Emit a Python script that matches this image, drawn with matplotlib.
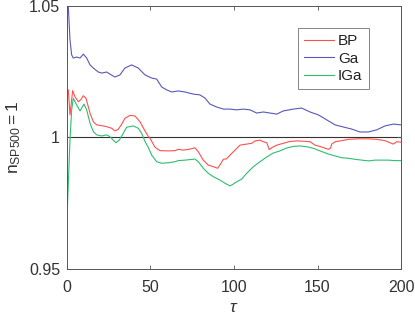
import matplotlib
matplotlib.use('Agg')
import matplotlib.pyplot as plt

plt.rcParams['font.family'] = ['Liberation Sans', 'DejaVu Sans']
plt.rcParams['mathtext.fontset'] = 'custom'
plt.rcParams['mathtext.rm'] = 'Liberation Sans'
plt.rcParams['mathtext.it'] = 'Liberation Sans:italic'

# Ga (blue)
ga_tau = [0, 0.8, 1.8, 2.8, 3.8, 5.8, 7.8, 9.8, 11.8, 13.8, 15.8, 18.7, 20.8, 23.8,
          25.7, 28.7, 31.7, 34.7, 38.7, 42.7, 46.7, 50.7, 53.7, 56.7, 59.7, 62.7,
          66.6, 70.7, 75.6, 79.6, 82.6, 85.6, 89.6, 93.6, 97.6, 101.6, 105.6, 109.6,
          113.6, 117.5, 121.6, 125.6, 129.5, 135.5, 140.5, 145.5, 150.5, 155.5,
          160.5, 165.4, 170.5, 175.4, 180.4, 185.4, 190.4, 195.4, 200]
ga_val = [1.0505, 1.0497, 1.0371, 1.0314, 1.0302, 1.0306, 1.0302, 1.0317, 1.0302,
          1.0276, 1.0264, 1.0249, 1.0245, 1.0249, 1.0241, 1.0230, 1.0238, 1.0264,
          1.0276, 1.0264, 1.0238, 1.0226, 1.0222, 1.0192, 1.0181, 1.0173, 1.0177,
          1.0173, 1.0165, 1.0162, 1.0150, 1.0127, 1.0116, 1.0108, 1.0108, 1.0105,
          1.0108, 1.0105, 1.0093, 1.0097, 1.0093, 1.0089, 1.0101, 1.0108, 1.0112,
          1.0097, 1.0086, 1.0067, 1.0048, 1.0040, 1.0032, 1.0021, 1.0021, 1.0029,
          1.0044, 1.0051, 1.0048]

# BP (red)
bp_tau = [0.8, 1.8, 3.4, 4.8, 6.8, 8.2, 9.8, 11.4, 13.8, 15.8, 17.8, 20.8, 23.8,
          26.8, 28.7, 30.7, 32.8, 34.7, 37.7, 40.7, 43.7, 46.7, 48.7, 49.7, 52.7,
          55.7, 60.7, 64.7, 66.6, 69.6, 73.7, 76.6, 78.6, 81.6, 84.6, 87.6, 90.2,
          92.2, 93.6, 95.6, 97.6, 100.6, 103.6, 107.6, 110.6, 112.6, 115.6, 117.5,
          119.6, 121.1, 122.8, 125.6, 129.5, 133.5, 137.5, 141.5, 145.5, 148.5,
          152.5, 156.5, 157.8, 158.5, 160.5, 164.5, 168.4, 174.4, 180.4, 185.4,
          190.4, 193.4, 195.4, 197.4, 200]
bp_val = [1.0181, 1.0086, 1.0178, 1.0155, 1.0136, 1.0143, 1.0159, 1.0149, 1.0092,
          1.0060, 1.0048, 1.0045, 1.0041, 1.0035, 1.0025, 1.0031, 1.0051, 1.0073,
          1.0084, 1.0082, 1.0060, 1.0025, 1.0004, 0.9997, 0.9963, 0.9950, 0.9949,
          0.9950, 0.9955, 0.9952, 0.9956, 0.9961, 0.9946, 0.9914, 0.9895, 0.9889,
          0.9883, 0.9902, 0.9917, 0.9919, 0.9933, 0.9952, 0.9971, 0.9975, 0.9978,
          0.9987, 0.9990, 0.9984, 0.9980, 0.9954, 0.9962, 0.9971, 0.9978, 0.9985,
          0.9987, 0.9986, 0.9984, 0.9971, 0.9964, 0.9955, 0.9960, 0.9975, 0.9984,
          0.9988, 0.9993, 0.9995, 0.9995, 0.9993, 0.9988, 0.9980, 0.9975, 0.9984,
          0.9982]

# IGa (green)
iga_tau = [0.3, 1.8, 2.8, 3.8, 5.8, 7.8, 10.2, 11.8, 13.8, 15.8, 17.8, 20.8, 23.8,
           25.7, 27.7, 29.3, 31.3, 33.7, 35.7, 39.7, 42.7, 44.7, 46.7, 48.7, 50.7,
           53.7, 56.7, 60.7, 64.7, 66.6, 70.7, 76.6, 78.6, 81.6, 84.6, 87.6, 91.6,
           94.6, 97.6, 99.6, 100.6, 104.6, 107.6, 111.6, 115.6, 119.6, 123.5, 127.5,
           131.5, 135.5, 139.5, 143.5, 147.5, 151.5, 156.5, 160.5, 164.5, 168.4,
           172.5, 176.5, 180.4, 184.4, 188.4, 192.4, 196.4, 200]
iga_val = [0.9743, 0.9990, 1.0105, 1.0149, 1.0124, 1.0101, 1.0127, 1.0105, 1.0054,
           1.0022, 1.0010, 1.0006, 1.0010, 1.0003, 0.9990, 0.9980, 0.9990, 1.0016,
           1.0039, 1.0044, 1.0035, 1.0016, 0.9985, 0.9962, 0.9933, 0.9908, 0.9902,
           0.9904, 0.9908, 0.9912, 0.9914, 0.9918, 0.9908, 0.9883, 0.9864, 0.9851,
           0.9838, 0.9826, 0.9816, 0.9823, 0.9828, 0.9842, 0.9864, 0.9889, 0.9908,
           0.9926, 0.9941, 0.9949, 0.9960, 0.9966, 0.9968, 0.9965, 0.9959, 0.9949,
           0.9937, 0.9930, 0.9923, 0.9921, 0.9917, 0.9914, 0.9911, 0.9914, 0.9914,
           0.9914, 0.9912, 0.9912]

fig = plt.figure(figsize=(4.15, 3.15), dpi=100)
ax = fig.add_axes([0.1614, 0.146, 0.805, 0.835])

ax.axhline(1, color='#333333', lw=0.8, zorder=1)
ax.plot(bp_tau, bp_val, color='#ff4f4f', lw=0.8, label='BP')
ax.plot(ga_tau, ga_val, color='#5858b8', lw=0.8, label='Ga')
ax.plot(iga_tau, iga_val, color='#2fbd70', lw=0.8, label='IGa')

ax.set_xlim(0, 200)
ax.set_ylim(0.95, 1.05)
ax.set_xticks([0, 50, 100, 150, 200])
ax.set_yticks([0.95, 1, 1.05])
ax.set_yticklabels(['0.95', '1', '1.05'])

for s in ax.spines.values():
    s.set_color('#555555')
    s.set_linewidth(0.7)
ax.tick_params(direction='in', top=True, right=True, length=3, width=0.6,
               color='#555555', labelsize=11.5, labelcolor='#333333')
ax.tick_params(axis='x', pad=8)
ax.tick_params(axis='y', pad=5)

ax.set_xlabel(r'$\tau$', fontsize=12.5, color='#333333', labelpad=3.5)
ax.set_ylabel(r'$\mathregular{n_{SP500} = 1}$', fontsize=12.5, color='#333333', labelpad=4)

leg = ax.legend(loc='upper right', bbox_to_anchor=(0.903, 0.915), fontsize=11,
                frameon=True, fancybox=False, handlelength=2.0, handletextpad=0.25,
                borderpad=0.4, labelspacing=0.22, borderaxespad=0)
leg.get_frame().set_edgecolor('#666666')
leg.get_frame().set_linewidth(0.7)
for t in leg.get_texts():
    t.set_color('#222222')

fig.savefig('out.png', dpi=100)
